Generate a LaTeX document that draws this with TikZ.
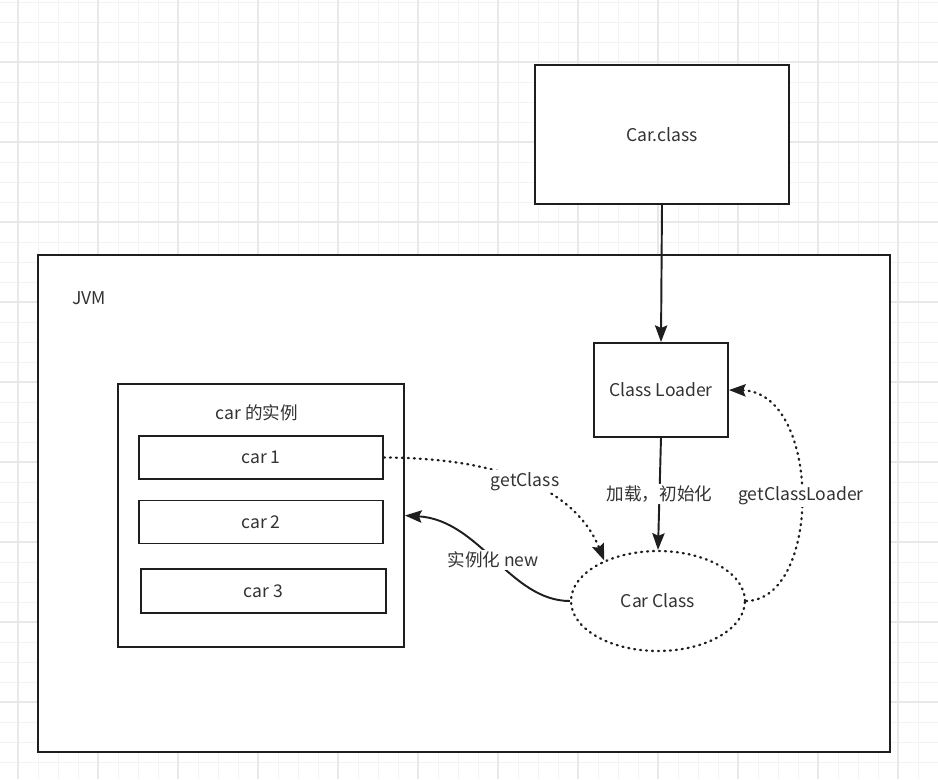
\documentclass[tikz,border=0pt]{standalone}
\usepackage{fontspec}
\setmainfont{Noto Sans CJK SC}
\usetikzlibrary{arrows.meta, positioning, shapes.geometric}
\definecolor{gridminor}{RGB}{243,243,243}
\definecolor{gridmajor}{RGB}{232,232,232}
\definecolor{txt}{RGB}{51,51,51}
\definecolor{edge}{RGB}{30,30,30}

\begin{document}
\begin{tikzpicture}[x=0.02cm, y=-0.02cm, font=\fontsize{10}{12}\selectfont, text=txt,
    box/.style={rectangle, draw=edge, line width=1.1pt, fill=white, inner sep=0pt},
    dots/.style={line width=1.3pt, line cap=round, dash pattern=on 0.6pt off 2.8pt},
    solidarrow/.style={draw=edge, line width=1.1pt, -{Stealth[length=9.5pt, width=7pt, inset=1.5pt]}},
    dotarrow/.style={solidarrow, dots},
    lbl/.style={fill=white, inner sep=1pt}]
    \useasboundingbox (0,0) rectangle (938,779);
    \fill[white] (0,0) rectangle (938,779);

    % grid of the canvas
    \foreach \gx in {18,38,...,938} \draw[gridminor, line width=0.5pt] (\gx,0) -- (\gx,779);
    \foreach \gy in {2,22,...,779} \draw[gridminor, line width=0.5pt] (0,\gy) -- (938,\gy);
    \foreach \gx in {18,98,...,938} \draw[gridmajor, line width=0.7pt] (\gx,0) -- (\gx,779);
    \foreach \gy in {62,142,...,779} \draw[gridmajor, line width=0.7pt] (0,\gy) -- (938,\gy);

    % Car.class file
    \node[box, minimum width=5.08cm, minimum height=2.78cm] (carfile) at (662,134.5) {Car.class};

    % JVM
    \node[box, minimum width=17.04cm, minimum height=9.94cm] (jvm) at (464,503.5) {};
    \node (jvmname) at (89,298) {JVM};

    % Class Loader
    \node[box, minimum width=2.68cm, minimum height=1.88cm] (loader) at (661,390) {Class Loader};

    % Car Class (dotted ellipse)
    \node[ellipse, draw=edge, dots, fill=white, inner sep=0pt,
          minimum width=3.48cm, minimum height=2cm] (carcls) at (658,601) {Car Class};

    % car instances
    \node[box, minimum width=5.72cm, minimum height=5.26cm] (inst) at (261,515.5) {};
    \node (insttitle) at (257,413) {car 的实例};
    \node[box, minimum width=4.88cm, minimum height=0.86cm] (car1) at (261,457.5) {car 1};
    \node[box, minimum width=4.88cm, minimum height=0.86cm] (car2) at (261,522) {car 2};
    \node[box, minimum width=4.9cm, minimum height=0.88cm] (car3) at (263.5,591) {car 3};

    % arrows
    \draw[solidarrow] (carfile.south) -- (loader.north);
    \draw[solidarrow] (loader.south) -- node[lbl] {加载，初始化} (carcls.north);
    \draw[dotarrow] (car1.east) .. controls (520,458) and (580,500) .. node[lbl, pos=0.45] {getClass} (carcls.143);
    \draw[solidarrow] (carcls.west) .. controls (510,601) and (480,520) .. node[lbl] {实例化 new} (inst.east);
    \draw[dotarrow] (carcls.east) .. controls (822,600) and (822,392) .. node[lbl] {getClassLoader} (loader.east);
\end{tikzpicture}
\end{document}
